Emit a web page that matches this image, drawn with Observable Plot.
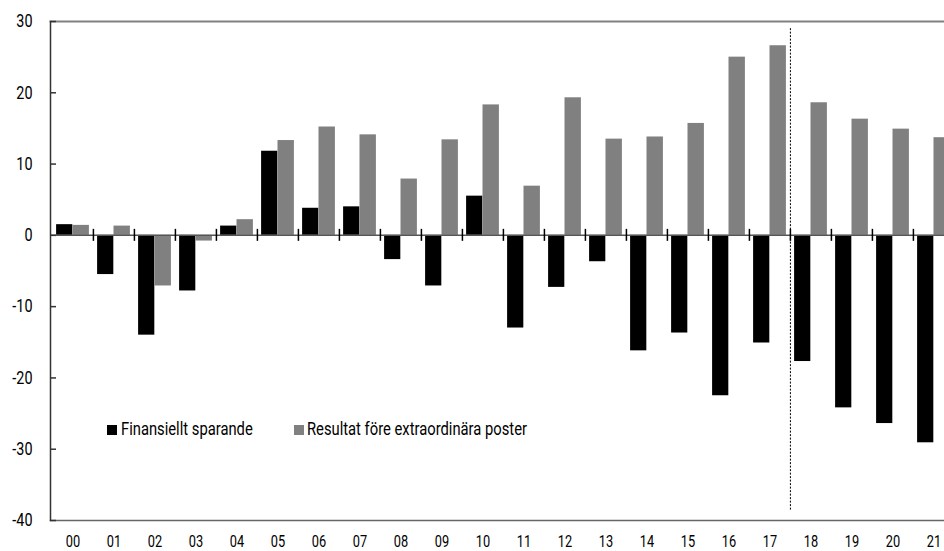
<!DOCTYPE html>
<html>
<head>
<meta charset="utf-8">
<script src="https://cdn.jsdelivr.net/npm/d3@7"></script>
<script src="https://cdn.jsdelivr.net/npm/@observablehq/plot@0.6"></script>
<style>
  html, body { margin: 0; padding: 0; background: #fff; }
  #wrap { position: relative; width: 944px; height: 551px; overflow: hidden; font-family: Roboto, "Liberation Sans", sans-serif; }
  .lg-sw { position: absolute; width: 10px; height: 10px; top: 425px; }
  .lg-tx { position: absolute; top: 418px; font-size: 18px; line-height: 22px; color: #000; white-space: nowrap; display: inline-block; transform: scaleX(0.82); transform-origin: 0 50%; }
</style>
</head>
<body>
<div id="wrap"></div>
<script>
const years = ["00","01","02","03","04","05","06","07","08","09","10","11","12","13","14","15","16","17","18","19","20","21"];
const finansielltSparande = [1.5,-5.5,-14.0,-7.8,1.3,11.8,3.8,4.0,-3.4,-7.1,5.5,-13.0,-7.3,-3.7,-16.2,-13.7,-22.5,-15.1,-17.7,-24.2,-26.4,-29.1];
const resultat = [1.4,1.3,-7.1,-0.8,2.2,13.3,15.2,14.1,7.9,13.4,18.3,6.9,19.3,13.5,13.8,15.7,25.0,26.6,18.6,16.3,14.9,13.7];
const seriesNames = ["Finansiellt sparande", "Resultat före extraordinära poster"];
const seriesColors = ["#000000", "#808080"];
const yTicks = [-40,-30,-20,-10,0,10,20,30];
const forecastStart = "18";
const forecastSpan = [29.0, -38.6];

const bandW = 906 / 22;
const gap = 4.1;
const barW = 16.4;
const half = bandW / 2;

const black = years.map((y, i) => ({year: y, value: finansielltSparande[i]}));
const gray = years.map((y, i) => ({year: y, value: resultat[i]}));

const chart = Plot.plot({
  width: 944,
  height: 551,
  marginTop: 21,
  marginLeft: 50,
  marginRight: 0,
  marginBottom: 31,
  style: {fontFamily: 'Roboto, "Liberation Sans", sans-serif', fontSize: "17px", color: "#000", background: "#fff"},
  x: {type: "band", domain: years, range: [50, 956], padding: 0},
  y: {domain: [-40, 30]},
  marks: [
    Plot.barY(black, {x: "year", y: "value", fill: seriesColors[0], insetLeft: gap, insetRight: bandW - gap - barW}),
    Plot.barY(gray, {x: "year", y: "value", fill: seriesColors[1], insetLeft: gap + barW, insetRight: gap}),
    Plot.ruleY([0], {stroke: "#555", strokeWidth: 1.5}),
    Plot.ruleX(years.slice(1), {x: d => d, y1: 0, y2: 0, dx: -half, insetTop: -6, insetBottom: -6, stroke: "#000", strokeWidth: 1.5}),
    Plot.ruleX([forecastStart], {x: d => d, y1: forecastSpan[0], y2: forecastSpan[1], dx: -half, stroke: "#000", strokeWidth: 1, strokeDasharray: "2,1.5"}),
    Plot.frame({anchor: "top", stroke: "#808080", strokeWidth: 2}),
    Plot.frame({anchor: "bottom", stroke: "#666", strokeWidth: 1.5}),
    Plot.frame({anchor: "left", stroke: "#333", strokeWidth: 1.5}),
    Plot.axisY({anchor: "right", frameAnchor: "left", ticks: yTicks, tickSize: 5, tickFormat: () => "", label: null, stroke: "#333", strokeWidth: 1.5}),
    Plot.axisY({ticks: yTicks, tickSize: 0, tickPadding: 18, tickFormat: d => String(d), label: null, fill: "#000", fontSize: 18}),
    Plot.axisX({tickSize: 0, tickPadding: 15, label: null, fill: "#000", fontSize: 16})
  ]
});
const wrap = document.getElementById("wrap");
wrap.appendChild(chart);

// condensed look for tick labels
chart.querySelectorAll("g[aria-label$='tick label'] text").forEach(t => {
  const tr = t.getAttribute("transform") || "";
  t.setAttribute("transform", tr + " scale(0.8,1)");
});

// legend
const legendX = [[107, 121], [294, 307]];
seriesNames.forEach((name, i) => {
  const sw = document.createElement("div");
  sw.className = "lg-sw";
  sw.style.left = legendX[i][0] + "px";
  sw.style.background = seriesColors[i];
  wrap.appendChild(sw);
  const tx = document.createElement("span");
  tx.className = "lg-tx";
  tx.style.left = legendX[i][1] + "px";
  tx.textContent = name;
  wrap.appendChild(tx);
});
</script>
</body>
</html>
